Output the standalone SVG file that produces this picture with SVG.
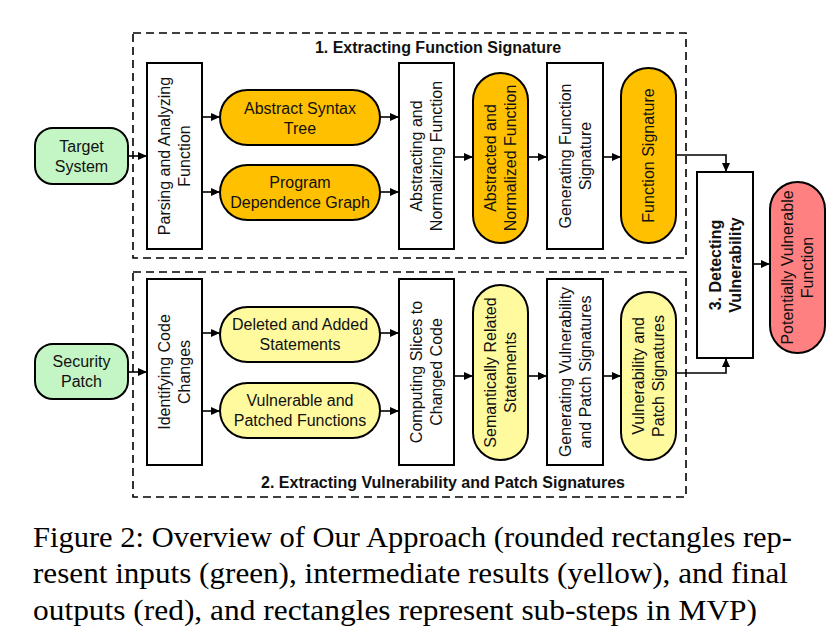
<svg xmlns="http://www.w3.org/2000/svg" width="835" height="637" viewBox="0 0 835 637">
<style>
.t{font-family:"Liberation Sans",Arial,sans-serif;font-size:16px;fill:#111;text-anchor:middle}
.b{font-weight:bold}
.box{fill:#fff;stroke:#000;stroke-width:2}
.in{fill:#C4F5C4;stroke:#000;stroke-width:2}
.mid{fill:#FFC000;stroke:#000;stroke-width:2}
.lt{fill:#FFFA9E;stroke:#000;stroke-width:2}
.out{fill:#FF8080;stroke:#000;stroke-width:2}
.dash{fill:none;stroke:#000;stroke-width:1.6;stroke-dasharray:8,5}
.c{fill:none;stroke:#000;stroke-width:1.6}
.cap{font-family:"Liberation Serif","Times New Roman",serif;font-size:29px;fill:#000}
</style>
<defs>
<marker id="ah" markerWidth="9" markerHeight="8" refX="9" refY="4" orient="auto" markerUnits="userSpaceOnUse">
<path d="M0,0 L9,4 L0,8 z" fill="#000"/>
</marker>
</defs>
<rect fill="#fff" width="835" height="637"/>

<g id="section1">
<rect class="dash" x="133" y="33" width="553" height="225"/>
<text class="t b" x="438" y="53">1. Extracting Function Signature</text>
</g>
<g id="section2">
<rect class="dash" x="133" y="272" width="553" height="225"/>
<text class="t b" x="443" y="488">2. Extracting Vulnerability and Patch Signatures</text>
</g>

<g id="connectors">
<path class="c" d="M128,156 H147" marker-end="url(#ah)"/>
<path class="c" d="M202,117 H220" marker-end="url(#ah)"/>
<path class="c" d="M202,192 H220" marker-end="url(#ah)"/>
<path class="c" d="M380,117 H399" marker-end="url(#ah)"/>
<path class="c" d="M380,192 H399" marker-end="url(#ah)"/>
<path class="c" d="M454,157 H473" marker-end="url(#ah)"/>
<path class="c" d="M528,157 H547" marker-end="url(#ah)"/>
<path class="c" d="M603,157 H621" marker-end="url(#ah)"/>
<path class="c" d="M676,155 H726 V172" marker-end="url(#ah)"/>
<path class="c" d="M128,372 H147" marker-end="url(#ah)"/>
<path class="c" d="M202,333 H220" marker-end="url(#ah)"/>
<path class="c" d="M202,411 H220" marker-end="url(#ah)"/>
<path class="c" d="M380,333 H399" marker-end="url(#ah)"/>
<path class="c" d="M380,411 H399" marker-end="url(#ah)"/>
<path class="c" d="M454,376 H473" marker-end="url(#ah)"/>
<path class="c" d="M528,376 H547" marker-end="url(#ah)"/>
<path class="c" d="M603,376 H621" marker-end="url(#ah)"/>
<path class="c" d="M676,373 H726 V358" marker-end="url(#ah)"/>
<path class="c" d="M753,264 H770" marker-end="url(#ah)"/>
</g>

<g id="target-system">
<rect class="in" x="35" y="128" width="93" height="56" rx="18"/>
<text class="t" x="81.5" y="152">Target</text>
<text class="t" x="81.5" y="172">System</text>
</g>
<g id="parsing">
<rect class="box" x="147" y="63" width="55" height="186"/>
<g transform="translate(174.5,156) rotate(-90)"><text class="t" y="-4.5">Parsing and Analyzing</text><text class="t" y="15.5">Function</text></g>
</g>
<g id="ast">
<rect class="mid" x="220" y="90" width="160" height="55" rx="27.5"/>
<text class="t" x="300" y="114">Abstract Syntax</text>
<text class="t" x="300" y="134">Tree</text>
</g>
<g id="pdg">
<rect class="mid" x="220" y="165" width="160" height="55" rx="27.5"/>
<text class="t" x="300" y="188">Program</text>
<text class="t" x="300" y="208">Dependence Graph</text>
</g>
<g id="abstracting">
<rect class="box" x="399" y="63" width="55" height="186"/>
<g transform="translate(426.5,156) rotate(-90)"><text class="t" y="-4.5">Abstracting and</text><text class="t" y="15.5">Normalizing Function</text></g>
</g>
<g id="abstracted">
<rect class="mid" x="473" y="73" width="55" height="170" rx="27.5"/>
<g transform="translate(500.5,158) rotate(-90)"><text class="t" y="-4.5">Abstracted and</text><text class="t" y="15.5">Normalized Function</text></g>
</g>
<g id="gen-func-sig">
<rect class="box" x="547" y="63" width="56" height="186"/>
<g transform="translate(575,156) rotate(-90)"><text class="t" y="-4.5">Generating Function</text><text class="t" y="15.5">Signature</text></g>
</g>
<g id="func-sig">
<rect class="mid" x="621" y="68" width="55" height="175" rx="27.5"/>
<g transform="translate(648.5,155.5) rotate(-90)"><text class="t" y="5.5">Function Signature</text></g>
</g>

<g id="security-patch">
<rect class="in" x="35" y="344" width="93" height="55" rx="18"/>
<text class="t" x="81.5" y="367">Security</text>
<text class="t" x="81.5" y="387">Patch</text>
</g>
<g id="identifying">
<rect class="box" x="147" y="279" width="55" height="186"/>
<g transform="translate(174.5,372) rotate(-90)"><text class="t" y="-4.5">Identifying Code</text><text class="t" y="15.5">Changes</text></g>
</g>
<g id="deleted-added">
<rect class="lt" x="220" y="307" width="160" height="55" rx="27.5"/>
<text class="t" x="300" y="330">Deleted and Added</text>
<text class="t" x="300" y="350">Statements</text>
</g>
<g id="vuln-patched">
<rect class="lt" x="220" y="383" width="160" height="55" rx="27.5"/>
<text class="t" x="300" y="406">Vulnerable and</text>
<text class="t" x="300" y="426">Patched Functions</text>
</g>
<g id="computing">
<rect class="box" x="399" y="279" width="55" height="186"/>
<g transform="translate(426.5,372) rotate(-90)"><text class="t" y="-4.5">Computing Slices to</text><text class="t" y="15.5">Changed Code</text></g>
</g>
<g id="semantic">
<rect class="lt" x="473" y="285" width="55" height="175" rx="27.5"/>
<g transform="translate(500.5,372.5) rotate(-90)"><text class="t" y="-4.5">Semantically Related</text><text class="t" y="15.5">Statements</text></g>
</g>
<g id="gen-vp-sig">
<rect class="box" x="547" y="279" width="56" height="186"/>
<g transform="translate(575,372) rotate(-90)"><text class="t" y="-4.5">Generating Vulnerability</text><text class="t" y="15.5">and Patch Signatures</text></g>
</g>
<g id="vp-sig">
<rect class="lt" x="621" y="292" width="55" height="168" rx="27.5"/>
<g transform="translate(648.5,376) rotate(-90)"><text class="t" y="-4.5">Vulnerability and</text><text class="t" y="15.5">Patch Signatures</text></g>
</g>

<g id="detecting">
<rect class="box" x="697" y="172" width="56" height="186"/>
<g transform="translate(725,265) rotate(-90)"><text class="t b" y="-4.5">3. Detecting</text><text class="t b" y="15.5">Vulnerability</text></g>
</g>
<g id="potentially-vulnerable">
<rect class="out" x="770" y="182" width="55" height="171" rx="27.5"/>
<g transform="translate(797.5,267.5) rotate(-90)"><text class="t" y="-4.5">Potentially Vulnerable</text><text class="t" y="15.5">Function</text></g>
</g>

<g id="caption">
<text class="cap" x="33" y="547" textLength="759" lengthAdjust="spacingAndGlyphs">Figure 2: Overview of Our Approach (rounded rectangles rep-</text>
<text class="cap" x="33" y="583" textLength="755" lengthAdjust="spacingAndGlyphs">resent inputs (green), intermediate results (yellow), and final</text>
<text class="cap" x="33" y="620" textLength="724" lengthAdjust="spacingAndGlyphs">outputs (red), and rectangles represent sub-steps in MVP)</text>
</g>
</svg>
